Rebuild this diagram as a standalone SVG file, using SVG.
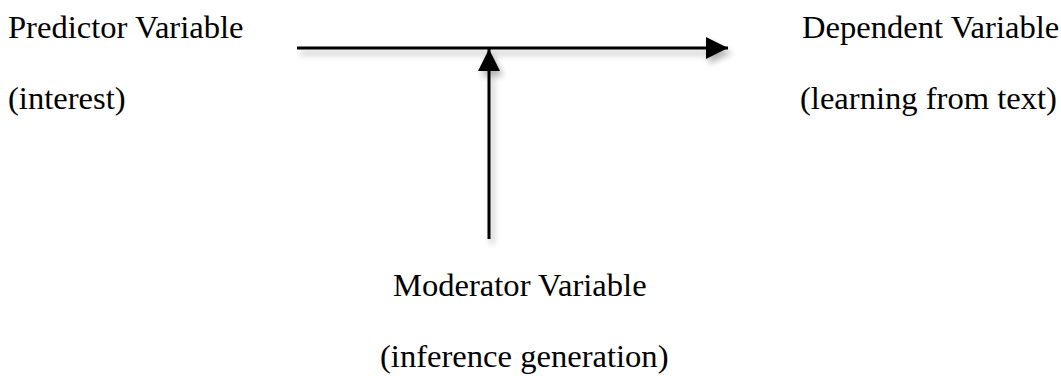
<svg xmlns="http://www.w3.org/2000/svg" width="1061" height="376" viewBox="0 0 1061 376">
<style>
text{font-family:"Liberation Serif","Times New Roman",serif;font-size:32.6px;fill:#000}
.c{stroke:#000;stroke-width:3;fill:none}
</style>
<defs>
<filter id="sh" x="-20%" y="-50%" width="140%" height="200%">
<feGaussianBlur in="SourceAlpha" stdDeviation="3"/>
<feOffset dx="3" dy="5" result="b"/>
<feComponentTransfer><feFuncA type="linear" slope="0.3"/></feComponentTransfer>
<feMerge><feMergeNode/><feMergeNode in="SourceGraphic"/></feMerge>
</filter>
<marker id="ah" viewBox="0 0 10 10" refX="10" refY="5" markerWidth="22" markerHeight="22" markerUnits="userSpaceOnUse" orient="auto">
<path d="M0,0 L10,5 L0,10 Z" fill="#000"/>
</marker>
</defs>
<g id="predictor"><text x="8" y="38">Predictor Variable</text><text x="8" y="109">(interest)</text></g>
<g id="dependent"><text x="802" y="38">Dependent Variable</text><text x="800" y="109">(learning from text)</text></g>
<g id="moderator"><text x="393" y="296">Moderator Variable</text><text x="380" y="367">(inference generation)</text></g>
<g id="connectors" filter="url(#sh)">
<line class="c" x1="297" y1="48" x2="728" y2="48" marker-end="url(#ah)"/>
<line class="c" x1="489" y1="239" x2="489" y2="49" marker-end="url(#ah)"/>
</g>
</svg>
